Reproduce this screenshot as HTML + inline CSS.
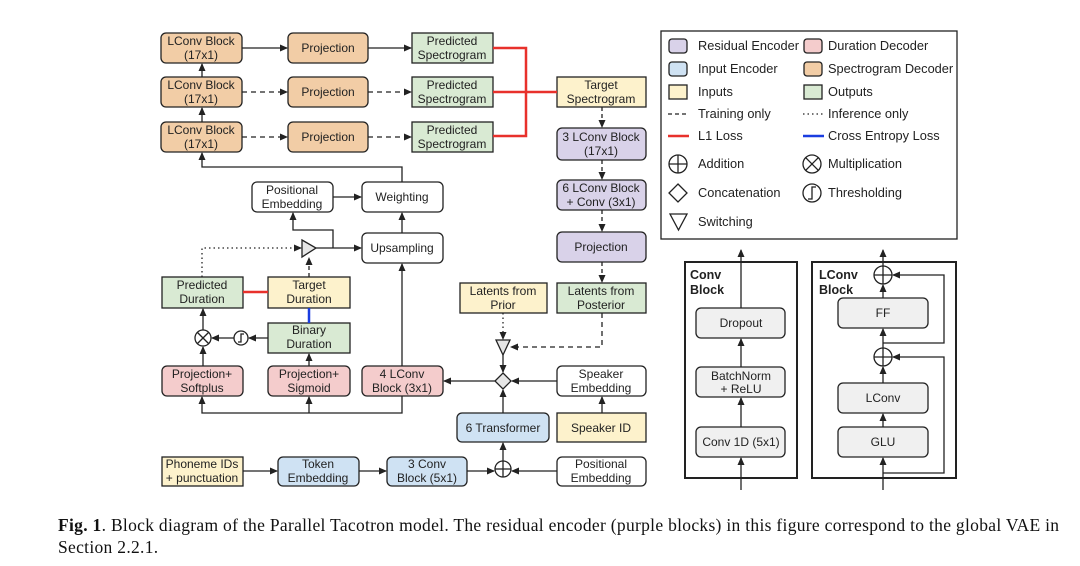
<!DOCTYPE html>
<html><head><meta charset="utf-8"><style>
html,body{margin:0;padding:0;background:#fff;width:1080px;height:566px;overflow:hidden}
svg text{font-family:"Liberation Sans",Arial,sans-serif;font-size:12px;fill:#222}
.cap{position:absolute;left:58px;top:514px;width:1015px;font-family:"Liberation Serif",serif;font-size:17.5px;line-height:22px;letter-spacing:0.3px;color:#111}
</style></head><body>
<svg width="1080" height="566" viewBox="0 0 1080 566" xmlns="http://www.w3.org/2000/svg" style="position:absolute;left:0;top:0">
<defs>
<marker id="a" markerWidth="8" markerHeight="8" refX="7" refY="4" orient="auto" markerUnits="userSpaceOnUse"><path d="M0,0.5 L8,4 L0,7.5 z" fill="#222"/></marker>
</defs>
<g stroke="#222" stroke-width="1.3">
<rect x="161" y="33" width="81" height="30" rx="5" fill="#f2cda6"/>
<rect x="161" y="77" width="81" height="30" rx="5" fill="#f2cda6"/>
<rect x="161" y="122" width="81" height="30" rx="5" fill="#f2cda6"/>
<rect x="288" y="33" width="80" height="30" rx="5" fill="#f2cda6"/>
<rect x="288" y="77" width="80" height="30" rx="5" fill="#f2cda6"/>
<rect x="288" y="122" width="80" height="30" rx="5" fill="#f2cda6"/>
<rect x="412" y="33" width="81" height="30" fill="#d9ead3"/>
<rect x="412" y="77" width="81" height="30" fill="#d9ead3"/>
<rect x="412" y="122" width="81" height="30" fill="#d9ead3"/>
<rect x="557" y="77" width="89" height="30" fill="#fdf2cc"/>
<rect x="557" y="128" width="89" height="32" rx="5" fill="#d9d2e9"/>
<rect x="557" y="180" width="89" height="30" rx="5" fill="#d9d2e9"/>
<rect x="557" y="232" width="89" height="30" rx="5" fill="#d9d2e9"/>
<rect x="557" y="283" width="89" height="30" fill="#d9ead3"/>
<rect x="252" y="182" width="81" height="30" rx="5" fill="#fff"/>
<rect x="362" y="182" width="81" height="30" rx="5" fill="#fff"/>
<rect x="362" y="233" width="81" height="30" rx="5" fill="#fff"/>
<rect x="162" y="277" width="81" height="31" fill="#d9ead3"/>
<rect x="268" y="277" width="82" height="31" fill="#fdf2cc"/>
<rect x="268" y="323" width="82" height="30" fill="#d9ead3"/>
<rect x="162" y="366" width="81" height="30" rx="5" fill="#f4cccc"/>
<rect x="268" y="366" width="82" height="30" rx="5" fill="#f4cccc"/>
<rect x="362" y="366" width="81" height="30" rx="5" fill="#f4cccc"/>
<rect x="460" y="283" width="87" height="30" fill="#fdf2cc"/>
<rect x="557" y="366" width="89" height="30" rx="5" fill="#fff"/>
<rect x="557" y="413" width="89" height="29" fill="#fdf2cc"/>
<rect x="457" y="413" width="92" height="29" rx="5" fill="#cfe2f3"/>
<rect x="162" y="457" width="81" height="29" fill="#fdf2cc"/>
<rect x="278" y="457" width="81" height="29" rx="5" fill="#cfe2f3"/>
<rect x="387" y="457" width="80" height="29" rx="5" fill="#cfe2f3"/>
<rect x="557" y="457" width="89" height="29" rx="5" fill="#fff"/>
</g>
<g stroke="#222" stroke-width="1.3" fill="none">
<line x1="242" y1="48" x2="287" y2="48" marker-end="url(#a)"/>
<line x1="368" y1="48" x2="411" y2="48" marker-end="url(#a)"/>
<line x1="242" y1="92" x2="287" y2="92" stroke-dasharray="5,4" marker-end="url(#a)"/>
<line x1="368" y1="92" x2="411" y2="92" stroke-dasharray="5,4" marker-end="url(#a)"/>
<line x1="242" y1="137" x2="287" y2="137" stroke-dasharray="5,4" marker-end="url(#a)"/>
<line x1="368" y1="137" x2="411" y2="137" stroke-dasharray="5,4" marker-end="url(#a)"/>
<line x1="202" y1="77" x2="202" y2="64" marker-end="url(#a)"/>
<line x1="202" y1="122" x2="202" y2="108" marker-end="url(#a)"/>
<polyline points="402,182 402,167 202,167 202,153" marker-end="url(#a)"/>
<line x1="333" y1="197" x2="361" y2="197" marker-end="url(#a)"/>
<line x1="402" y1="233" x2="402" y2="213" marker-end="url(#a)"/>
<line x1="316" y1="248" x2="361" y2="248" marker-end="url(#a)"/>
<polyline points="333,248 333,230 293,230 293,213" marker-end="url(#a)"/>
<polyline points="202,277 202,248 301,248" stroke-dasharray="1.5,3" marker-end="url(#a)"/>
<line x1="309" y1="277" x2="309" y2="258" stroke-dasharray="4,3" marker-end="url(#a)"/>
<line x1="268" y1="338" x2="249" y2="338" marker-end="url(#a)"/>
<line x1="234" y1="338" x2="212" y2="338" marker-end="url(#a)"/>
<line x1="203" y1="330" x2="203" y2="309" marker-end="url(#a)"/>
<line x1="203" y1="366" x2="203" y2="347" marker-end="url(#a)"/>
<line x1="309" y1="366" x2="309" y2="354" marker-end="url(#a)"/>
<line x1="402" y1="366" x2="402" y2="264" marker-end="url(#a)"/>
<polyline points="402,396 402,413 202,413 202,397" marker-end="url(#a)"/>
<line x1="309" y1="413" x2="309" y2="397" marker-end="url(#a)"/>
<line x1="495" y1="381" x2="444" y2="381" marker-end="url(#a)"/>
<line x1="557" y1="381" x2="512" y2="381" marker-end="url(#a)"/>
<line x1="602" y1="413" x2="602" y2="397" marker-end="url(#a)"/>
<line x1="503" y1="413" x2="503" y2="390" marker-end="url(#a)"/>
<line x1="503" y1="355" x2="503" y2="372" marker-end="url(#a)"/>
<line x1="503" y1="313" x2="503" y2="339" stroke-dasharray="1.5,3" marker-end="url(#a)"/>
<polyline points="602,313 602,347 511,347" stroke-dasharray="5,4" marker-end="url(#a)"/>
<line x1="503" y1="461" x2="503" y2="443" marker-end="url(#a)"/>
<line x1="243" y1="471" x2="277" y2="471" marker-end="url(#a)"/>
<line x1="359" y1="471" x2="386" y2="471" marker-end="url(#a)"/>
<line x1="467" y1="471" x2="494" y2="471" marker-end="url(#a)"/>
<line x1="557" y1="471" x2="512" y2="471" marker-end="url(#a)"/>
<line x1="602" y1="107" x2="602" y2="127" stroke-dasharray="4,3" marker-end="url(#a)"/>
<line x1="602" y1="160" x2="602" y2="179" stroke-dasharray="4,3" marker-end="url(#a)"/>
<line x1="602" y1="210" x2="602" y2="231" stroke-dasharray="4,3" marker-end="url(#a)"/>
<line x1="602" y1="262" x2="602" y2="282" stroke-dasharray="4,3" marker-end="url(#a)"/>
</g>
<g stroke="#e8312b" stroke-width="2.5" fill="none">
<polyline points="493,48 526,48 526,136 493,136"/>
<line x1="493" y1="92" x2="557" y2="92"/>
<line x1="243" y1="292" x2="268" y2="292"/>
</g>
<line x1="309" y1="308" x2="309" y2="323" stroke="#1a3de0" stroke-width="2.5"/>
<g stroke="#222" stroke-width="1.3">
<polygon points="302,240 316,248 302,257" fill="#e6e6e6"/>
<polygon points="496,340 510,340 503,355" fill="#e6e6e6"/>
<polygon points="503,373 511,381 503,389 495,381" fill="#e6e6e6"/>
<circle cx="203" cy="338" r="8" fill="#fff"/>
<line x1="197.5" y1="332.5" x2="208.5" y2="343.5"/><line x1="208.5" y1="332.5" x2="197.5" y2="343.5"/>
<circle cx="241" cy="338" r="7" fill="#fff"/>
<path d="M238,342 L241,342 L241,334 L244,334" fill="none"/>
<circle cx="503" cy="469" r="8" fill="#fff"/>
<line x1="495" y1="469" x2="511" y2="469"/><line x1="503" y1="461" x2="503" y2="477"/>
</g>
<g text-anchor="middle">
<text x="201" y="45">LConv Block</text><text x="201" y="59">(17x1)</text>
<text x="201" y="89">LConv Block</text><text x="201" y="103">(17x1)</text>
<text x="201" y="134">LConv Block</text><text x="201" y="148">(17x1)</text>
<text x="328" y="52">Projection</text><text x="328" y="96">Projection</text><text x="328" y="141">Projection</text>
<text x="452" y="45">Predicted</text><text x="452" y="59">Spectrogram</text>
<text x="452" y="89">Predicted</text><text x="452" y="103">Spectrogram</text>
<text x="452" y="134">Predicted</text><text x="452" y="148">Spectrogram</text>
<text x="601" y="89">Target</text><text x="601" y="103">Spectrogram</text>
<text x="601" y="141">3 LConv Block</text><text x="601" y="155">(17x1)</text>
<text x="601" y="192">6 LConv Block</text><text x="601" y="206">+ Conv (3x1)</text>
<text x="601" y="251">Projection</text>
<text x="601" y="295">Latents from</text><text x="601" y="309">Posterior</text>
<text x="503" y="295">Latents from</text><text x="503" y="309">Prior</text>
<text x="292" y="194">Positional</text><text x="292" y="208">Embedding</text>
<text x="402" y="201">Weighting</text>
<text x="402" y="252">Upsampling</text>
<text x="202" y="289">Predicted</text><text x="202" y="303">Duration</text>
<text x="309" y="289">Target</text><text x="309" y="303">Duration</text>
<text x="309" y="334">Binary</text><text x="309" y="348">Duration</text>
<text x="202" y="378">Projection+</text><text x="202" y="392">Softplus</text>
<text x="309" y="378">Projection+</text><text x="309" y="392">Sigmoid</text>
<text x="402" y="378">4 LConv</text><text x="402" y="392">Block (3x1)</text>
<text x="601" y="378">Speaker</text><text x="601" y="392">Embedding</text>
<text x="601" y="432">Speaker ID</text>
<text x="503" y="432">6 Transformer</text>
<text x="202" y="468">Phoneme IDs</text><text x="202" y="482">+ punctuation</text>
<text x="318" y="468">Token</text><text x="318" y="482">Embedding</text>
<text x="427" y="468">3 Conv</text><text x="427" y="482">Block (5x1)</text>
<text x="601" y="468">Positional</text><text x="601" y="482">Embedding</text>
</g>
<rect x="661" y="31" width="296" height="208" fill="#fff" stroke="#222" stroke-width="1.3"/>
<g stroke="#222" stroke-width="1.3">
<rect x="669" y="39" width="18" height="14" rx="3" fill="#d9d2e9"/>
<rect x="804" y="39" width="18" height="14" rx="3" fill="#f4cccc"/>
<rect x="669" y="62" width="18" height="14" rx="3" fill="#cfe2f3"/>
<rect x="804" y="62" width="18" height="14" rx="3" fill="#f2cda6"/>
<rect x="669" y="85" width="18" height="14" fill="#fdf2cc"/>
<rect x="804" y="85" width="18" height="14" fill="#d9ead3"/>
<line x1="668" y1="114" x2="689" y2="114" stroke-dasharray="4,3"/>
<line x1="803" y1="114" x2="824" y2="114" stroke-dasharray="1.5,3"/>
<circle cx="678" cy="164" r="9" fill="#fff"/><line x1="669" y1="164" x2="687" y2="164"/><line x1="678" y1="155" x2="678" y2="173"/>
<circle cx="812" cy="164" r="9" fill="#fff"/><line x1="805.6" y1="157.6" x2="818.4" y2="170.4"/><line x1="818.4" y1="157.6" x2="805.6" y2="170.4"/>
<polygon points="678,184 687,193 678,202 669,193" fill="#fff"/>
<circle cx="812" cy="193" r="9" fill="#fff"/><path d="M808,199 L812,199 L812,187 L816,187" fill="none"/>
<polygon points="670,214 687,214 678.5,230" fill="#fff"/>
</g>
<line x1="668" y1="136" x2="689" y2="136" stroke="#e8312b" stroke-width="2.5"/>
<line x1="803" y1="136" x2="824" y2="136" stroke="#1a3de0" stroke-width="2.5"/>
<g>
<text x="698" y="50" style="font-size:12.8px">Residual Encoder</text><text x="828" y="50" style="font-size:12.8px">Duration Decoder</text>
<text x="698" y="73" style="font-size:12.8px">Input Encoder</text><text x="828" y="73" style="font-size:12.8px">Spectrogram Decoder</text>
<text x="698" y="96" style="font-size:12.8px">Inputs</text><text x="828" y="96" style="font-size:12.8px">Outputs</text>
<text x="698" y="118" style="font-size:12.8px">Training only</text><text x="828" y="118" style="font-size:12.8px">Inference only</text>
<text x="698" y="140" style="font-size:12.8px">L1 Loss</text><text x="828" y="140" style="font-size:12.8px">Cross Entropy Loss</text>
<text x="698" y="168" style="font-size:12.8px">Addition</text><text x="828" y="168" style="font-size:12.8px">Multiplication</text>
<text x="698" y="197" style="font-size:12.8px">Concatenation</text><text x="828" y="197" style="font-size:12.8px">Thresholding</text>
<text x="698" y="226" style="font-size:12.8px">Switching</text>
</g>
<g stroke="#222" fill="none">
<rect x="685" y="262" width="112" height="216" stroke-width="2"/>
<rect x="812" y="262" width="144" height="216" stroke-width="2"/>
</g>
<g stroke="#222" stroke-width="1.3">
<rect x="696" y="308" width="89" height="30" rx="5" fill="#f0f0f0"/>
<rect x="696" y="367" width="89" height="30" rx="5" fill="#f0f0f0"/>
<rect x="696" y="427" width="89" height="30" rx="5" fill="#f0f0f0"/>
<rect x="838" y="298" width="90" height="30" rx="5" fill="#f0f0f0"/>
<rect x="838" y="383" width="90" height="30" rx="5" fill="#f0f0f0"/>
<rect x="838" y="427" width="90" height="30" rx="5" fill="#f0f0f0"/>
</g>
<g stroke="#222" stroke-width="1.3" fill="none">
<line x1="741" y1="490" x2="741" y2="458" marker-end="url(#a)"/>
<line x1="741" y1="427" x2="741" y2="398" marker-end="url(#a)"/>
<line x1="741" y1="367" x2="741" y2="339" marker-end="url(#a)"/>
<line x1="741" y1="308" x2="741" y2="250" marker-end="url(#a)"/>
<line x1="883" y1="490" x2="883" y2="458" marker-end="url(#a)"/>
<line x1="883" y1="427" x2="883" y2="414" marker-end="url(#a)"/>
<line x1="883" y1="383" x2="883" y2="367" marker-end="url(#a)"/>
<line x1="883" y1="348" x2="883" y2="329" marker-end="url(#a)"/>
<line x1="883" y1="298" x2="883" y2="285" marker-end="url(#a)"/>
<line x1="883" y1="266" x2="883" y2="250" marker-end="url(#a)"/>
<polyline points="883,343 944,343 944,275 893,275" marker-end="url(#a)"/>
<polyline points="883,473 944,473 944,357 893,357" marker-end="url(#a)"/>
<circle cx="883" cy="275" r="9" fill="#fff"/><line x1="874" y1="275" x2="892" y2="275"/><line x1="883" y1="266" x2="883" y2="284"/>
<circle cx="883" cy="357" r="9" fill="#fff"/><line x1="874" y1="357" x2="892" y2="357"/><line x1="883" y1="348" x2="883" y2="366"/>
</g>
<text x="690" y="279" style="font-size:12.5px;font-weight:bold">Conv</text><text x="690" y="294" style="font-size:12.5px;font-weight:bold">Block</text>
<text x="819" y="279" style="font-size:12.5px;font-weight:bold">LConv</text><text x="819" y="294" style="font-size:12.5px;font-weight:bold">Block</text>
<g text-anchor="middle">
<text x="741" y="327">Dropout</text>
<text x="741" y="380">BatchNorm</text><text x="741" y="393">+ ReLU</text>
<text x="741" y="446">Conv 1D (5x1)</text>
<text x="883" y="317">FF</text>
<text x="883" y="402">LConv</text>
<text x="883" y="446">GLU</text>
</g>
</svg>
<div class="cap"><b>Fig. 1</b>. Block diagram of the Parallel Tacotron model. The residual encoder (purple blocks) in this figure correspond to the global VAE in Section 2.2.1.</div>
</body></html>
